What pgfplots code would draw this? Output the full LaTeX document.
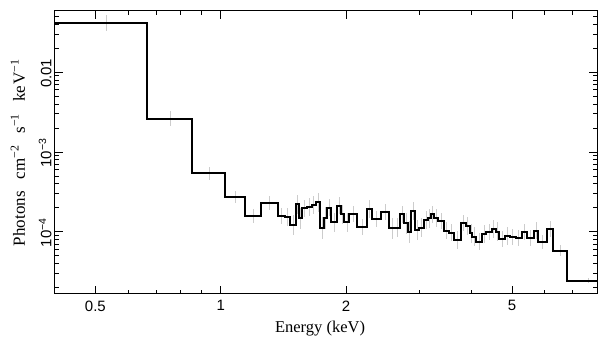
\documentclass[border=0pt]{standalone}
\usepackage{fontspec}
\setmainfont{Liberation Serif}
\newfontfamily\sansf{Liberation Sans}
\usepackage{pgfplots}
\usepackage{pgfplotstable}
\pgfplotsset{compat=1.18}

\pgfplotstableread{
xlo xhi y d
0.400 0.6638 0.04119 0.100
0.6638 0.8538 0.002594 0.094
0.8538 1.0223 5.40e-4 0.084
1.0223 1.1415 2.70e-4 0.075
1.1415 1.2515 1.574e-4 0.09
1.2515 1.3716 2.272e-4 0.09
1.3716 1.4232 1.574e-4 0.10
1.4232 1.4687 1.516e-4 0.11
1.4687 1.5118 1.214e-4 0.13
1.5118 1.5395 2.207e-4 0.12
1.5395 1.5686 1.473e-4 0.13
1.5686 1.6064 1.966e-4 0.11
1.6064 1.6514 2.041e-4 0.11
1.6514 1.6949 2.163e-4 0.11
1.6949 1.7325 2.338e-4 0.12
1.7325 1.7742 1.103e-4 0.14
1.7742 1.7968 1.486e-4 0.14
1.7968 1.8412 2.000e-4 0.11
1.8412 1.9031 1.312e-4 0.12
1.9031 1.9454 2.120e-4 0.11
1.9454 1.9814 1.653e-4 0.12
1.9814 2.0356 1.312e-4 0.12
2.0356 2.1195 1.653e-4 0.10
2.1195 2.2449 1.155e-4 0.10
2.2449 2.3026 1.926e-4 0.11
2.3026 2.4260 1.443e-4 0.10
2.4260 2.5395 1.781e-4 0.10
2.5395 2.6104 1.103e-4 0.13
2.6104 2.6977 1.120e-4 0.12
2.6977 2.7579 1.653e-4 0.11
2.7579 2.8085 1.274e-4 0.13
2.8085 2.8620 1.000e-4 0.14
2.8620 2.9309 1.818e-4 0.11
2.9309 2.9963 1.050e-4 0.13
2.9963 3.0802 1.122e-4 0.12
3.0802 3.1490 1.402e-4 0.11
3.1490 3.1959 1.473e-4 0.12
3.1959 3.2546 1.653e-4 0.11
3.2546 3.3266 1.486e-4 0.11
3.3266 3.4388 1.362e-4 0.10
3.4388 3.5348 1.029e-4 0.11
3.5348 3.6336 9.71e-5 0.11
3.6336 3.7708 7.86e-5 0.11
3.7708 3.8764 1.274e-4 0.10
3.8764 3.9623 1.179e-4 0.11
3.9623 4.0199 9.55e-5 0.12
4.0199 4.1090 8.65e-5 0.12
4.1090 4.2338 7.49e-5 0.11
4.2338 4.3426 9.36e-5 0.11
4.3426 4.4737 1.000e-4 0.10
4.4737 4.5736 1.072e-4 0.11
4.5736 4.6575 1.000e-4 0.12
4.6575 4.8139 8.03e-5 0.10
4.8139 4.9397 8.83e-5 0.11
4.9397 5.1070 8.60e-5 0.10
5.1070 5.2784 8.40e-5 0.10
5.2784 5.4450 1.000e-4 0.10
5.4450 5.6494 8.26e-5 0.10
5.6494 5.7849 1.029e-4 0.11
5.7849 6.0778 7.49e-5 0.09
6.0778 6.2710 1.072e-4 0.10
6.2710 6.7856 5.78e-5 0.07
6.7856 8.5 2.43e-5 0.03
8.5 8.5 2.43e-5 0
}\spectrum

\begin{document}
\begin{tikzpicture}
\begin{axis}[
  scale only axis,
  width=542pt, height=283pt,
  xmode=log, ymode=log,
  xmin=0.4, xmax=8,
  ymin=1.652e-5, ymax=0.0587,
  axis line style={line width=1pt},
  tick pos=both,
  tick align=inside,
  major tick length=8pt,
  minor tick length=4.5pt,
  every tick/.style={black, line width=0.9pt},
  xtick={0.5,1,2,5},
  xticklabels={0.5,1,2,5},
  minor xtick={0.6,0.7,0.8,0.9,3,4,6,7},
  ytick={1e-4,1e-3,1e-2},
  yticklabels={{\sansf 10\textsuperscript{−4}},{\sansf 10\textsuperscript{−3}},{\sansf 0.01}},
  minor ytick={2e-5,3e-5,4e-5,5e-5,6e-5,7e-5,8e-5,9e-5,
               2e-4,3e-4,4e-4,5e-4,6e-4,7e-4,8e-4,9e-4,
               2e-3,3e-3,4e-3,5e-3,6e-3,7e-3,8e-3,9e-3,
               2e-2,3e-2,4e-2,5e-2},
  ticklabel style={font=\sansf\fontsize{15}{15}\selectfont},
  xticklabel style={yshift=-3pt},
  yticklabel style={rotate=90, anchor=south, xshift=-1pt},
  xlabel={Energy (keV)},
  ylabel={Photons\hspace{0.45em} cm\textsuperscript{−2}\hspace{0.45em} s\textsuperscript{−1}\hspace{0.45em} ke\hspace{0.08em}V\textsuperscript{−1}},
  xlabel style={font=\fontsize{16.5}{18}\selectfont, at={(axis description cs:0.489,-0.1378)}, anchor=base},
  ylabel style={font=\fontsize{17}{18}\selectfont, at={(axis description cs:-0.0554,0.5)}, anchor=base},
]
\coordinate (bl) at (rel axis cs:0,0);
\coordinate (tr) at (rel axis cs:1,1);
\addplot[draw=none, mark=none,
  error bars/.cd, y dir=both, y explicit relative, error mark=none,
  error bar style={draw=black!20, line width=0.8pt}]
  table[x expr={(\thisrow{xlo}+\thisrow{xhi})/2}, y=y,
        y error plus expr={10^(\thisrow{d})-1},
        y error minus expr={1-10^(-\thisrow{d})}] {\spectrum};
\addplot[const plot mark left, black, line width=2pt, mark=none] table[x=xlo, y=y] {\spectrum};
\end{axis}
\pgfresetboundingbox
\path ([xshift=-55pt,yshift=-63pt]bl) rectangle ([xshift=12pt,yshift=11pt]tr);
\end{tikzpicture}
\end{document}
